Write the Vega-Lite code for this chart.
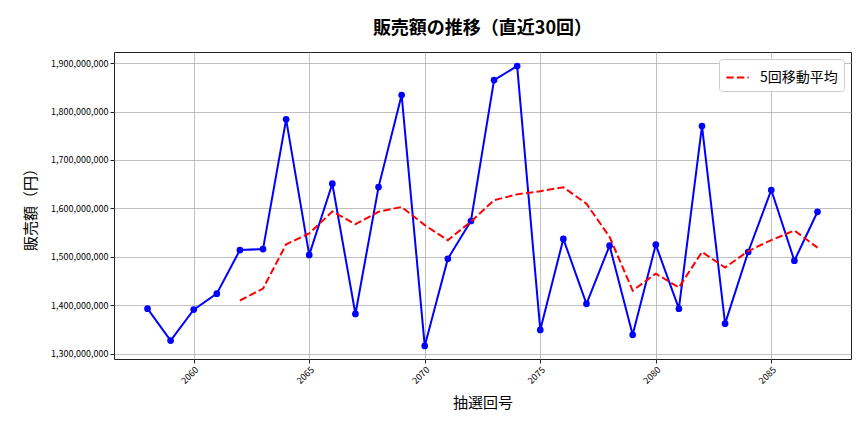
{
  "$schema": "https://vega.github.io/schema/vega-lite/v6.json",
  "autosize": {"type": "none"},
  "width": 737,
  "height": 307,
  "padding": {"left": 114, "top": 52, "right": 13, "bottom": 73},
  "background": "white",
  "config": {
    "font": "Noto Sans CJK JP",
    "view": {"stroke": "#222", "strokeWidth": 1},
    "axis": {
      "grid": true, "gridColor": "#b0b0b0", "gridWidth": 0.8,
      "domain": false, "tickColor": "#222", "tickSize": 4,
      "labelColor": "#000", "labelFontSize": 9, "titleFontSize": 15,
      "titleFontWeight": "normal", "titleColor": "#000"
    }
  },
  "title": {
    "text": "販売額の推移（直近30回）",
    "fontSize": 18, "fontWeight": "bold", "anchor": "middle", "offset": 14, "color": "#000"
  },
  "data": {
    "values": [
      {"draw": 2058, "sales": 1393000000, "ma": null},
      {"draw": 2059, "sales": 1327000000, "ma": null},
      {"draw": 2060, "sales": 1391000000, "ma": null},
      {"draw": 2061, "sales": 1424000000, "ma": null},
      {"draw": 2062, "sales": 1514000000, "ma": 1409800000},
      {"draw": 2063, "sales": 1516000000, "ma": 1434400000},
      {"draw": 2064, "sales": 1784000000, "ma": 1525800000},
      {"draw": 2065, "sales": 1504000000, "ma": 1548400000},
      {"draw": 2066, "sales": 1651000000, "ma": 1593800000},
      {"draw": 2067, "sales": 1382000000, "ma": 1567400000},
      {"draw": 2068, "sales": 1644000000, "ma": 1593000000},
      {"draw": 2069, "sales": 1834000000, "ma": 1603000000},
      {"draw": 2070, "sales": 1316000000, "ma": 1565400000},
      {"draw": 2071, "sales": 1496000000, "ma": 1534400000},
      {"draw": 2072, "sales": 1574000000, "ma": 1572800000},
      {"draw": 2073, "sales": 1865000000, "ma": 1617000000},
      {"draw": 2074, "sales": 1894000000, "ma": 1629000000},
      {"draw": 2075, "sales": 1349000000, "ma": 1635600000},
      {"draw": 2076, "sales": 1537000000, "ma": 1643800000},
      {"draw": 2077, "sales": 1403000000, "ma": 1609600000},
      {"draw": 2078, "sales": 1523000000, "ma": 1541200000},
      {"draw": 2079, "sales": 1339000000, "ma": 1430200000},
      {"draw": 2080, "sales": 1525000000, "ma": 1465400000},
      {"draw": 2081, "sales": 1393000000, "ma": 1436600000},
      {"draw": 2082, "sales": 1770000000, "ma": 1510000000},
      {"draw": 2083, "sales": 1362000000, "ma": 1477800000},
      {"draw": 2084, "sales": 1510000000, "ma": 1512000000},
      {"draw": 2085, "sales": 1638000000, "ma": 1534600000},
      {"draw": 2086, "sales": 1492000000, "ma": 1554400000},
      {"draw": 2087, "sales": 1593000000, "ma": 1519000000}
    ]
  },
  "encoding": {
    "x": {
      "field": "draw", "type": "quantitative",
      "scale": {"domain": [2056.55, 2088.45], "nice": false, "zero": false},
      "axis": {
        "title": "抽選回号", "values": [2060, 2065, 2070, 2075, 2080, 2085],
        "format": "d", "labelAngle": -45, "labelAlign": "right", "labelBaseline": "top",
        "titlePadding": 10
      }
    }
  },
  "layer": [
    {
      "mark": {"type": "line", "color": "#0000ff", "strokeWidth": 2,
               "point": {"filled": true, "size": 45, "color": "#0000ff"}},
      "encoding": {
        "y": {
          "field": "sales", "type": "quantitative",
          "scale": {"domain": [1289000000, 1923000000], "nice": false, "zero": false},
          "axis": {
            "title": "販売額（円）", "format": ",d",
            "values": [1300000000, 1400000000, 1500000000, 1600000000, 1700000000, 1800000000, 1900000000],
            "titlePadding": 12
          }
        }
      }
    },
    {
      "mark": {"type": "line", "strokeWidth": 2, "strokeDash": [7.4, 3.2]},
      "encoding": {
        "y": {"field": "ma", "type": "quantitative"},
        "color": {
          "datum": "5回移動平均", "type": "nominal",
          "scale": {"domain": ["5回移動平均"], "range": ["#ff0000"]},
          "legend": {
            "title": null, "orient": "top-right", "offset": 7,
            "symbolType": "stroke", "symbolDash": [7.4, 3.2], "symbolStrokeWidth": 2,
            "symbolSize": 500, "labelFontSize": 14, "labelColor": "#000", "labelOffset": 10,
            "fillColor": "white", "strokeColor": "#cccccc", "padding": 6, "cornerRadius": 3
          }
        }
      }
    }
  ]
}
